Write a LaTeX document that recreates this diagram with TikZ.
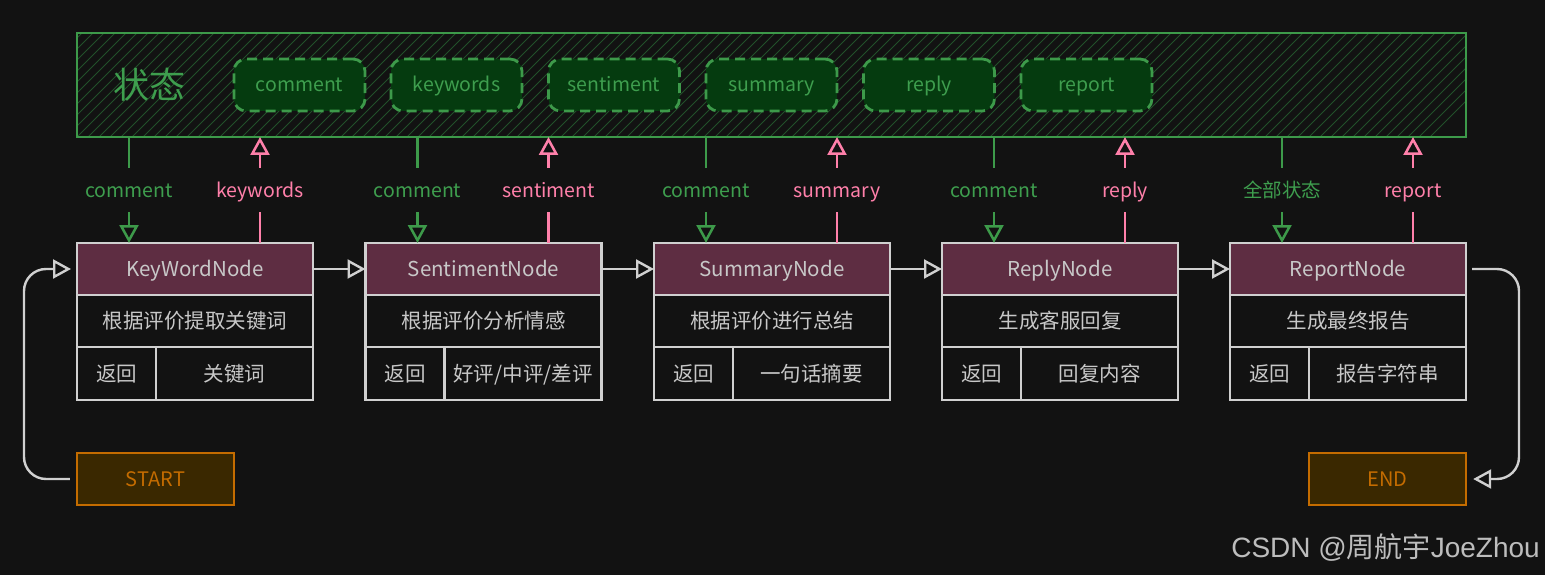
\documentclass[tikz,border=0pt]{standalone}
\usepackage{fontspec}
\setmainfont{Noto Sans CJK SC}
\newfontfamily\wmfont{Liberation Sans}
\newfontfamily\cjkfont{Noto Sans CJK SC}
\usetikzlibrary{arrows.meta,calc}
\definecolor{bg}{HTML}{121212}
\definecolor{sgreen}{HTML}{3D9A4A}
\definecolor{sgtext}{HTML}{3E9E4E}
\definecolor{hatch}{HTML}{22502A}
\definecolor{chipfill}{HTML}{053B0F}
\definecolor{pinkc}{HTML}{FF80AA}
\definecolor{maroon}{HTML}{5E2D42}
\definecolor{lgray}{HTML}{D0D0D0}
\definecolor{tgray}{HTML}{C8C8C8}
\definecolor{obrown}{HTML}{3A2800}
\definecolor{oline}{HTML}{C46C00}
\definecolor{wmgray}{HTML}{BDBDBD}
\newcommand\fsz[1]{\fontsize{#1}{#1}\selectfont}
\tikzset{
  lat/.style={text height=18pt, text depth=4pt},
  han/.style={text height=18pt, text depth=3pt},
  box/.style={draw=lgray, line width=2.4pt, outer sep=0pt, inner sep=0pt, text=tgray},
  hdr/.style={box, lat, fill=maroon, minimum width=236pt, minimum height=52pt, font=\fsz{20.5}},
  rowbox/.style={box, han, minimum width=236pt, minimum height=52pt, font=\fsz{20.5}},
  cellA/.style={box, han, minimum width=79pt, minimum height=53pt, font=\fsz{20.5}},
  cellB/.style={box, han, minimum width=157pt, minimum height=53pt, font=\fsz{20.5}},
  tip/.style={-{Triangle[open, length=18pt, width=19pt]}},
  gline/.style={draw=sgreen, line width=2.5pt, tip},
  pline/.style={draw=pinkc, line width=2.5pt, tip},
  wline/.style={draw=lgray, line width=2.4pt, tip},
  lbl/.style={fill=bg, lat, inner sep=0pt, minimum height=44pt, minimum width=20pt, font=\fsz{19.5}},
  chip/.style={draw=sgreen, fill=chipfill, lat, line width=2.8pt, dash pattern=on 10pt off 6pt,
    rounded corners=12pt, minimum width=131pt, minimum height=52pt, text=sgtext, font=\fsz{19.5}},
  term/.style={draw=oline, fill=obrown, lat, line width=2.4pt, minimum width=157pt, minimum height=52pt,
    text=oline, font=\fsz{20}, inner sep=0pt},
}
\newcommand\fnode[7]{%
  \node[hdr, anchor=north west] (#1) at (#2,243) {#3};
  \node[rowbox, anchor=north] (#1d) at (#1.south) {#4};
  \node[cellA, anchor=north west] (#1r) at (#1d.south west) {返回};
  \node[cellB, anchor=north east] (#1v) at (#1d.south east) {#5};
  \coordinate (#1i) at ($(#1.north west)+(52pt,0)$);
  \coordinate (#1o) at ($(#1.north west)+(183pt,0)$);
  \draw[gline] (#1i |- state.south) -- node[lbl, text=sgtext]{#6} (#1i);
  \draw[pline] (#1o) -- node[lbl, text=pinkc]{#7} (#1o |- state.south);
}
\begin{document}
\begin{tikzpicture}[x=1pt, y=-1pt]
\fill[bg] (0,0) rectangle (1545,575);
\useasboundingbox (0,0) rectangle (1545,575);
% state box
\begin{scope}
  \clip (77,33) rectangle (1466,137);
  \foreach \k in {-10,...,130} {
    \draw[hatch, line width=1pt] (\k*11,137) -- (\k*11+104,33);
  }
\end{scope}
\node[draw=sgreen, line width=2.4pt, anchor=north west, minimum width=1389pt, minimum height=104pt, outer sep=0pt] (state) at (77,33) {};
\node[text=sgtext, text height=29pt, text depth=0pt, inner sep=0pt, font=\fsz{36}] (stlbl) at (149,84) {状态};
\node[chip] (c1) at (299.5,85) {comment};
\node[chip] (c2) at (456.5,85) {keywords};
\node[chip] (c3) at (614,85) {sentiment};
\node[chip] (c4) at (771.5,85) {summary};
\node[chip] (c5) at (929,85) {reply};
\node[chip] (c6) at (1086.5,85) {report};
% nodes
\fnode{kw}{77}{KeyWordNode}{根据评价提取关键词}{关键词}{comment}{keywords}
\fnode{se}{365.5}{SentimentNode}{根据评价分析情感}{好评/中评/差评}{comment}{sentiment}
\fnode{su}{654}{SummaryNode}{根据评价进行总结}{一句话摘要}{comment}{summary}
\fnode{re}{942}{ReplyNode}{生成客服回复}{回复内容}{comment}{reply}
\fnode{rp}{1230}{ReportNode}{生成最终报告}{报告字符串}{全部状态}{report}
\draw[wline] (kw.east) -- (se.west);
\draw[wline] (se.east) -- (su.west);
\draw[wline] (su.east) -- (re.west);
\draw[wline] (re.east) -- (rp.west);
% start / end
\node[term] (start) at (155.5,479) {START};
\node[term] (end) at (1387.5,479) {END};
\draw[wline, rounded corners=22pt] ([xshift=-6pt]start.west) -- (24,479) -- (24,269) -- ([xshift=-6pt]kw.west);
\draw[wline, rounded corners=22pt] ([xshift=6pt]rp.east) -- (1519,269) -- (1519,479) -- ([xshift=6pt]end.east);
% watermark
\node[anchor=east, text=wmgray, inner sep=0pt] (wm) at (1540,548) {\fsz{28}\wmfont CSDN @\cjkfont 周航宇\wmfont JoeZhou};
\end{tikzpicture}
\end{document}
